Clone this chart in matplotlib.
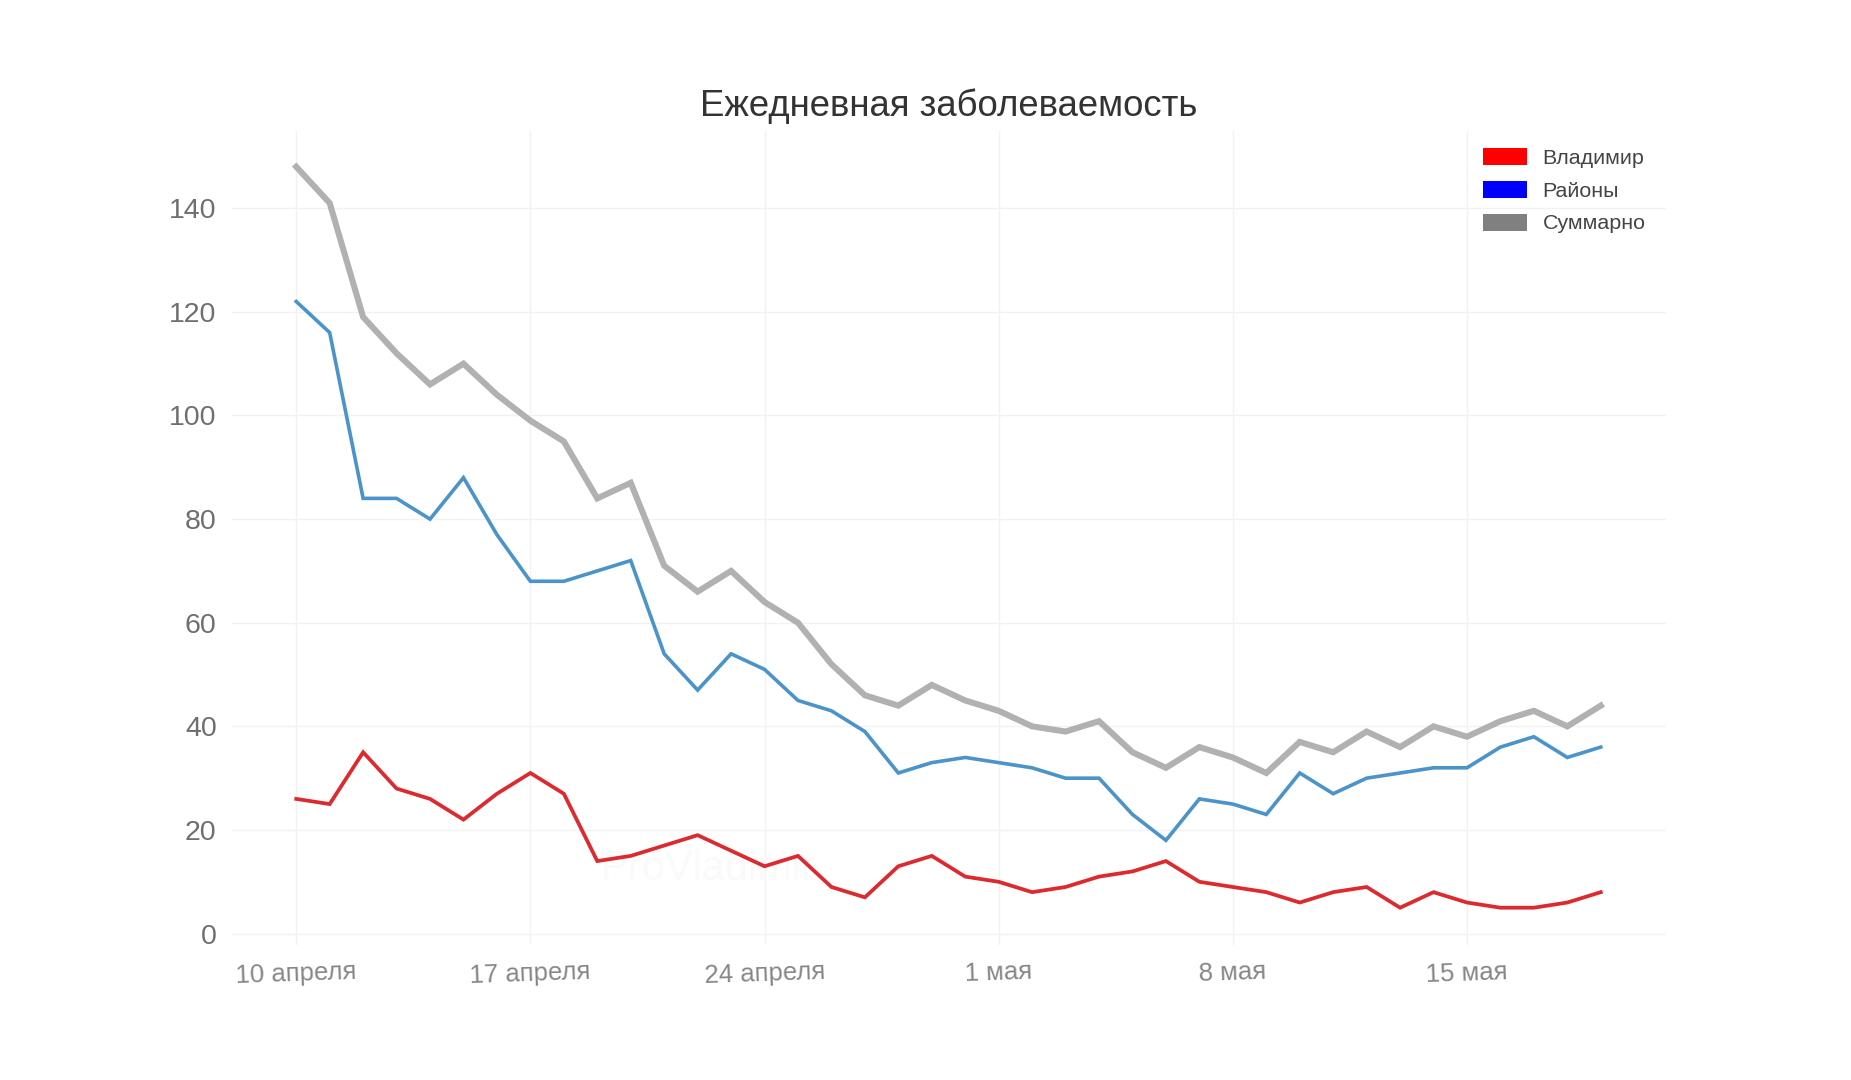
import numpy as np
import matplotlib
matplotlib.use('Agg')
import matplotlib.pyplot as plt
from matplotlib.patches import Patch

plt.rcParams['font.family'] = ['Liberation Sans', 'DejaVu Sans']

# данные по дням, с 10 апреля по 19 мая
vladimir = [26, 25, 35, 28, 26, 22, 27, 31, 27, 14, 15, 17, 19, 16, 13, 15, 9, 7, 13, 15,
            11, 10, 8, 9, 11, 12, 14, 10, 9, 8, 6, 8, 9, 5, 8, 6, 5, 5, 6, 8]
rayony = [122, 116, 84, 84, 80, 88, 77, 68, 68, 70, 72, 54, 47, 54, 51, 45, 43, 39, 31, 33,
          34, 33, 32, 30, 30, 23, 18, 26, 25, 23, 31, 27, 30, 31, 32, 32, 36, 38, 34, 36]
summary = [148, 141, 119, 112, 106, 110, 104, 99, 95, 84, 87, 71, 66, 70, 64, 60, 52, 46, 44, 48,
           45, 43, 40, 39, 41, 35, 32, 36, 34, 31, 37, 35, 39, 36, 40, 38, 41, 43, 40, 44]
days = np.arange(len(vladimir))

x_ticks = [0, 7, 14, 21, 28, 35]
x_labels = ['10 апреля', '17 апреля', '24 апреля', '1 мая', '8 мая', '15 мая']
y_ticks = [0, 20, 40, 60, 80, 100, 120, 140]

W, H = 1851, 1080
fig = plt.figure(figsize=(W / 100, H / 100), dpi=100)
# положение области графика в пикселях исходной картинки
left, right, top, bottom = 232, 1666, 130.5, 944.5
ax = fig.add_axes([left / W, 1 - bottom / H, (right - left) / W, (bottom - top) / H])

ax.plot(days, summary, color='#b1b1b1', lw=4.4, solid_joinstyle='miter', zorder=3)
ax.plot(days, rayony, color='#4a94c9', lw=2.6, solid_joinstyle='miter', zorder=4)
ax.plot(days, vladimir, color='#dc2a2e', lw=2.7, solid_joinstyle='miter', zorder=5)

ax.set_xlim(-1.92, 40.95)
ax.set_ylim(-2.1, 155)
ax.set_xticks(x_ticks)
ax.set_xticklabels(x_labels, rotation=2, fontsize=18.5, color='#868686')
ax.set_yticks(y_ticks)
ax.tick_params(axis='y', labelsize=20.5, labelcolor='#6f6f6f', length=0, pad=11)
ax.tick_params(axis='x', length=0, pad=11)
ax.grid(True, color='#f2f2f2', lw=1)
ax.set_axisbelow(True)
for s in ax.spines.values():
    s.set_visible(False)

# еле заметный водяной знак
ax.text(12.3, 12.5, 'ProVladimir', fontsize=30, color='#fafafa', ha='center', va='center', zorder=1)

fig.text(949 / W, 1 - 106.5 / H, 'Ежедневная заболеваемость', fontsize=26.3, color='#333333',
         ha='center', va='center')

handles = [Patch(facecolor='#ff0000', label='Владимир'),
           Patch(facecolor='#0000ff', label='Районы'),
           Patch(facecolor='#808080', label='Суммарно')]
ax.legend(handles=handles, loc='upper left', bbox_to_anchor=(1483 / W, 1 - 148 / H),
          bbox_transform=fig.transFigure, frameon=False, borderpad=0, borderaxespad=0,
          fontsize=15.4, labelcolor='#444444', handlelength=2.06, handleheight=0.85,
          handletextpad=0.72, labelspacing=0.6)

fig.savefig('out.png', dpi=100, facecolor='white')
